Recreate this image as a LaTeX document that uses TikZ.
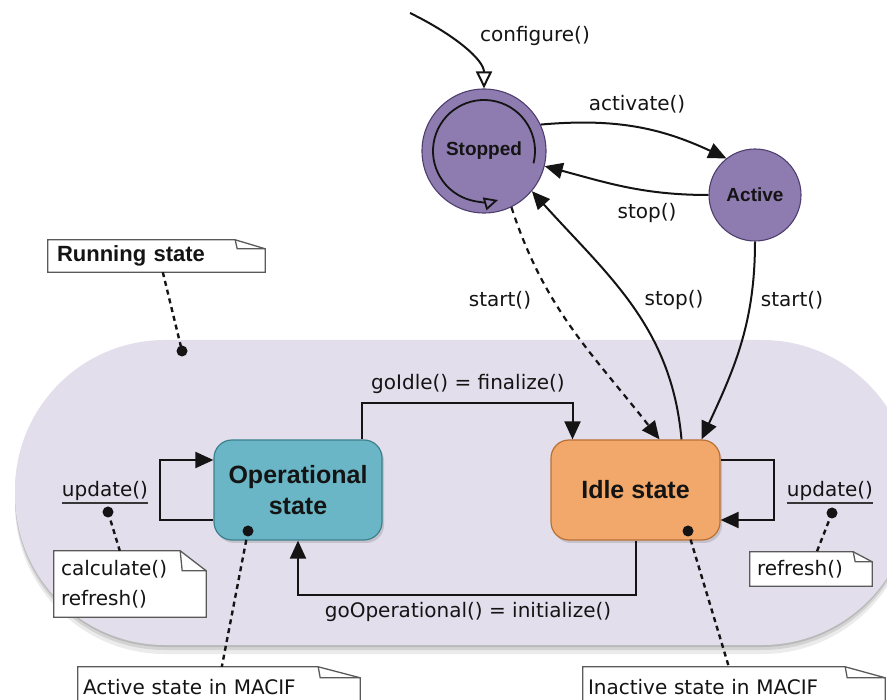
\documentclass[tikz,border=0pt]{standalone}
\usepackage{fontspec}
\setmainfont{DejaVu Sans}
\newfontfamily\headfont{Liberation Sans}
\usetikzlibrary{arrows.meta,calc,shadows}

\definecolor{statefill}{RGB}{142,124,176}
\definecolor{stateline}{RGB}{78,62,110}
\definecolor{opfill}{RGB}{106,182,198}
\definecolor{opline}{RGB}{60,128,142}
\definecolor{idlefill}{RGB}{242,168,106}
\definecolor{idleline}{RGB}{186,112,52}
\definecolor{runfill}{RGB}{227,222,236}
\definecolor{ink}{RGB}{20,20,20}
\definecolor{noteedge}{RGB}{90,90,90}

\pgfdeclarelayer{bg}
\pgfdeclarelayer{notes}
\pgfsetlayers{bg,notes,main}

% UML note outline with a folded top-right corner: node, fold width, fold height
\newcommand\notefold[3]{%
  \begin{pgfonlayer}{notes}
    \filldraw[notedraw] (#1.south west) -- (#1.north west)
      -- ($(#1.north east)+(-#2,0)$) -- ($(#1.north east)+(0,#3)$)
      -- (#1.south east) -- cycle;
    \draw[notedraw,fill=none] ($(#1.north east)+(-#2,0)$)
      -- ($(#1.north east)+(-#2+2,#3)$) -- ($(#1.north east)+(0,#3)$);
  \end{pgfonlayer}}

\begin{document}
\begin{tikzpicture}[x=1pt,y=-1pt,
  txt/.style={inner sep=0, text=ink, font=\fontsize{20}{24}\selectfont},
  state/.style={circle, draw=stateline, line width=1.1, fill=statefill, inner sep=0,
    text=ink, font=\headfont\bfseries\fontsize{19}{22}\selectfont},
  phase/.style={rounded corners=18, draw, line width=1.2, minimum width=168,
    minimum height=100, inner sep=0, align=center, text=ink,
    font=\headfont\bfseries\fontsize{25}{31}\selectfont,
    drop shadow={shadow xshift=2pt, shadow yshift=-3pt, opacity=.3}},
  trans/.style={draw=ink, line width=2, -{Triangle[length=18pt,width=16pt]}},
  openhead/.style={draw=ink, line width=2, -{Triangle[length=17pt,width=16pt,fill=white]}},
  noteline/.style={draw=ink, line width=2.4, dash pattern=on 5pt off 4pt},
  notebox/.style={inner sep=0, align=left, text=ink, font=\fontsize{20}{30}\selectfont},
  notedraw/.style={draw=noteedge, fill=white, line width=1.3},
  dot/.style={fill=ink}]

\useasboundingbox (0,0) rectangle (887,700);

% running-state region with its soft shadow
\begin{pgfonlayer}{bg}
  \fill[black,opacity=.08,rounded corners=150] (15,349) rectangle (912,654);
  \fill[black,opacity=.10,rounded corners=150] (15,346) rectangle (912,650);
  \fill[black,opacity=.12,rounded corners=150] (15,343) rectangle (912,647);
  \fill[runfill,rounded corners=150] (15,340) rectangle (912,645);
\end{pgfonlayer}

% component states
\node[state, minimum size=124] (stp) at (484,151) {Stopped};
\node[state, minimum size=92] (act) at (755,195) {Active};

% running sub-states
\node[phase, fill=opfill, draw=opline] (op) at (298,490) {Operational\\state};
\node[phase, fill=idlefill, draw=idleline, minimum width=169] (idle) at (635.5,490) {Idle state};

% configure()
\coordinate (cfg) at (410,13);
\draw[openhead] (cfg) .. controls (455,35) and (484,60) .. (stp.north);
\node[txt, anchor=west] (lcfg) at (480,36) {configure()};

% inner cycle of the stopped state
\draw[line width=1.8, draw=ink, -{Triangle[length=14pt,width=13pt,fill=statefill]}]
  ($(stp)+(14:51)$) arc[start angle=14, end angle=-286, radius=51];

% stopped <-> active
\draw[trans] (stp.25) to[out=5,in=155] (act.128);
\node[txt] (lact) at (637,104) {activate()};
\draw[trans] (act.west) to[out=180,in=-15] (stp.-14);
\node[txt] (lstop1) at (647,213) {stop()};

% transitions into and out of the running region
\draw[trans, dash pattern=on 6pt off 5pt, line width=2.2] (stp.-64) to[out=-72,in=128] ($(idle.north)+(24,0)$);
\node[txt] (lstart1) at (500,300) {start()};
\draw[trans] ($(idle.north)+(46,0)$) to[out=95,in=-48] (stp.-40);
\node[txt] (lstop2) at (674,300) {stop()};
\draw[trans] (act.south) to[out=-90,in=65] ($(idle.north)+(66,0)$);
\node[txt] (lstart2) at (792,300) {start()};

% operational <-> idle
\draw[trans] ($(op.north)+(64,0)$) |- ($(idle.north)+(-63,-36)$) -- ($(idle.north)+(-63,0)$);
\node[txt] (lgoidle) at (468,384) {goIdle() = finalize()};
\draw[trans] (idle.south) -- ++(0,54) -| (op.south);
\node[txt] (lgoop) at (468,612) {goOperational() = initialize()};

% self transitions
\draw[trans] ($(op.west)+(0,30)$) -- ++(-53,0) |- ($(op.west)+(0,-30)$);
\node[txt] (lupd1) at (105,491) {update()};
\draw[line width=1.8, draw=ink!85] ($(lupd1.south west)+(0,2)$) -- ($(lupd1.south east)+(0,2)$);
\draw[trans] ($(idle.east)+(0,-30)$) -- ++(53,0) |- ($(idle.east)+(0,30)$);
\node[txt] (lupd2) at (830,491) {update()};
\draw[line width=1.8, draw=ink!85] ($(lupd2.south west)+(0,2)$) -- ($(lupd2.south east)+(0,2)$);

% notes
\node[notebox, minimum width=217, minimum height=32, text width=199,
  font=\headfont\bfseries\fontsize{22}{26}\selectfont] (nrun) at (156.5,256) {Running state};
\notefold{nrun}{30}{9}
\node[notebox, minimum width=152, minimum height=66, text width=138] (ncalc) at (130,584) {calculate()\\refresh()};
\notefold{ncalc}{26}{20}
\node[notebox, minimum width=122, minimum height=34, text width=108] (nref) at (811,569) {refresh()};
\notefold{nref}{19}{10}
\node[notebox, minimum width=282, minimum height=40, text width=272] (nact) at (219,687) {Active state in MACIF};
\notefold{nact}{42}{11}
\node[notebox, minimum width=302, minimum height=40, text width=292] (ninact) at (734,687) {Inactive state in MACIF};
\notefold{ninact}{40}{11}

% note anchors
\coordinate (drun) at (182,351);
\coordinate (dupd1) at (108,512);
\coordinate (dupd2) at (832,513);
\coordinate (dop) at (248,531);
\coordinate (didle) at (688,531);

\draw[noteline] ($(nrun.south west)+(115,0)$) -- (drun);
\draw[noteline] (dupd1) -- ($(ncalc.north west)+(66,0)$);
\draw[noteline] (dupd2) -- ($(nref.north west)+(67,0)$);
\draw[noteline] (dop) -- ($(nact.north west)+(144,0)$);
\draw[noteline] (didle) -- ($(ninact.north west)+(146,0)$);

\foreach \d in {drun,dupd1,dupd2,dop,didle}
  \fill[dot] (\d) circle[radius=5.5pt];

\end{tikzpicture}
\end{document}
